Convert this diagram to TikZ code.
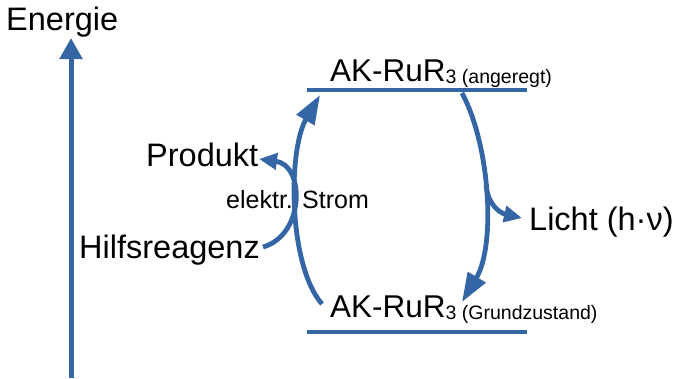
\documentclass[tikz,border=0pt]{standalone}
\usepackage{fontspec}
\setmainfont{Liberation Sans}
\usetikzlibrary{arrows.meta}
\definecolor{eblue}{HTML}{3465A4}
\begin{document}
\begin{tikzpicture}[x=1pt,y=-1pt,
  lbl/.style={inner sep=0pt,anchor=base west,font=\fontsize{32.5}{36}\selectfont},
  aklbl/.style={inner sep=0pt,anchor=base west,font=\fontsize{31.5}{36}\selectfont},
  small/.style={inner sep=0pt,anchor=base west,font=\fontsize{25}{28}\selectfont},
  level/.style={draw=eblue,line width=3.5pt},
  bigarr/.style={draw=eblue,line width=4.8pt,-{Triangle[length=29pt,width=20pt]}},
  smallarr/.style={draw=eblue,line width=4.8pt,-{Triangle[length=18pt,width=16pt]}},
  axisarr/.style={draw=eblue,line width=5pt,-{Triangle[length=21pt,width=22pt]}}]
\useasboundingbox (0,0) rectangle (675,378);
\newcommand{\subtxt}[1]{{\fontsize{19.5}{24}\selectfont\raisebox{-2pt}{#1}}}
% texts
\node[lbl] (energie) at (6,30) {Energie};
\node[lbl] (produkt) at (146,166) {Produkt};
\node[lbl] (hilfs) at (79,258) {Hilfsreagenz};
\node[small] (strom) at (226,208) {elektr. Strom};
\node[lbl] (licht) at (529,230) {Licht (h·ν)};
\node[aklbl] (top) at (330,81) {AK-RuR\subtxt{3 (angeregt)}};
\node[aklbl] (bot) at (330,317) {AK-RuR\subtxt{3 (Grundzustand)}};
% coordinates
\coordinate (axb) at (71,378);
\coordinate (axt) at (71,38);
\coordinate (tl) at (307,90);
\coordinate (tr) at (527,90);
\coordinate (bl) at (307,332);
\coordinate (br) at (527,332);
\coordinate (ls) at (322,304);
\coordinate (le) at (320,95);
\coordinate (rs) at (462,93);
\coordinate (re) at (462,302);
\coordinate (lis) at (486,185);
\coordinate (lie) at (522,218);
\coordinate (hs) at (263,247);
\coordinate (pe) at (259,159);
% axis
\draw[axisarr] (axb) -- (axt);
% levels
\draw[level] (tl) -- (tr);
\draw[level] (bl) -- (br);
% arrows
\draw[bigarr] (ls) .. controls (288,265) and (288,150) .. (le);
\draw[bigarr] (rs) .. controls (490,145) and (496,245) .. (re);
\draw[smallarr] (lis) .. controls (488,205) and (500,213) .. (lie);
\draw[smallarr] (hs) .. controls (305,235) and (305,165) .. (pe);
\end{tikzpicture}
\end{document}
